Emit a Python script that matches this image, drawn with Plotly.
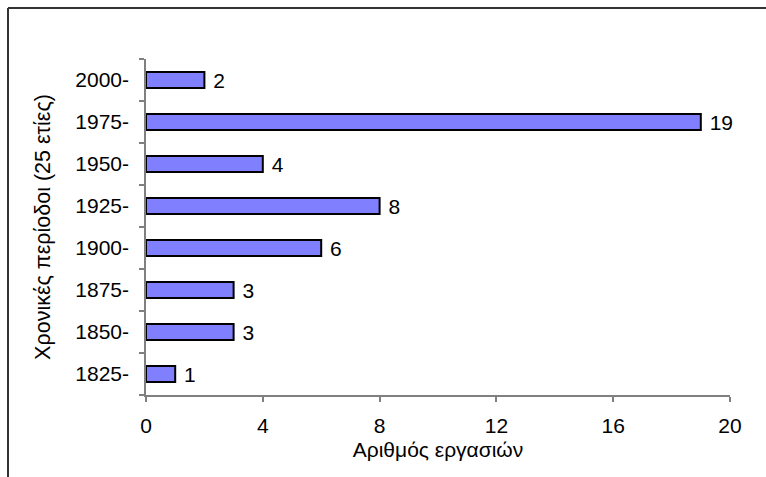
import plotly.graph_objects as go

periods = ["1825-", "1850-", "1875-", "1900-", "1925-", "1950-", "1975-", "2000-"]
counts = [1, 3, 3, 6, 8, 4, 19, 2]
x_ticks = [0, 4, 8, 12, 16, 20]

W, H = 766, 477
L, R, T, B = 146, 36, 59, 82
pw, ph = W - L - R, H - T - B

def px_x(p):
    return (p - L) / pw

def px_y(p):
    return (H - B - p) / ph

FONT = "Liberation Sans, Arial, sans-serif"

fig = go.Figure(go.Bar(
    x=counts, y=periods, orientation="h",
    marker=dict(color="#8080FF", line=dict(color="black", width=2)),
    texttemplate=" %{x}", textposition="outside", constraintext="none",
    textfont=dict(size=21, color="black", family=FONT),
    cliponaxis=False,
))

fig.update_layout(
    width=W, height=H,
    margin=dict(l=L, r=R, t=T, b=B),
    paper_bgcolor="white", plot_bgcolor="white",
    bargap=0.62,
    showlegend=False,
    font=dict(family=FONT, size=21, color="black"),
    xaxis=dict(
        range=[0, 20], tickvals=x_ticks, ticktext=[str(v) for v in x_ticks],
        showgrid=False, zeroline=False,
        showline=True, linecolor="#808080", linewidth=1.5,
        ticks="outside", ticklen=5, tickcolor="#808080", tickwidth=1.5,
        tickfont=dict(size=21),
        ticklabelstandoff=6,
        title=dict(text="Αριθμός εργασιών", font=dict(size=21), standoff=6),
    ),
    yaxis=dict(
        showgrid=False, zeroline=False,
        showline=True, linecolor="#808080", linewidth=1.5,
        ticks="outside", ticklen=5, tickcolor="#808080", tickwidth=1.5,
        tickson="boundaries",
        tickfont=dict(size=21),
        ticklabelstandoff=11,
        title=dict(text="Χρονικές περίοδοι (25 ετίες)", font=dict(size=21.5), standoff=19),
    ),
    shapes=[
        dict(type="line", xref="paper", yref="paper",
             x0=px_x(8), x1=px_x(8), y0=px_y(8), y1=px_y(H + 5),
             line=dict(color="#333333", width=2)),
        dict(type="line", xref="paper", yref="paper",
             x0=px_x(8), x1=px_x(W + 5), y0=px_y(8), y1=px_y(8),
             line=dict(color="#333333", width=2)),
    ],
)

fig.write_html("out.html")
